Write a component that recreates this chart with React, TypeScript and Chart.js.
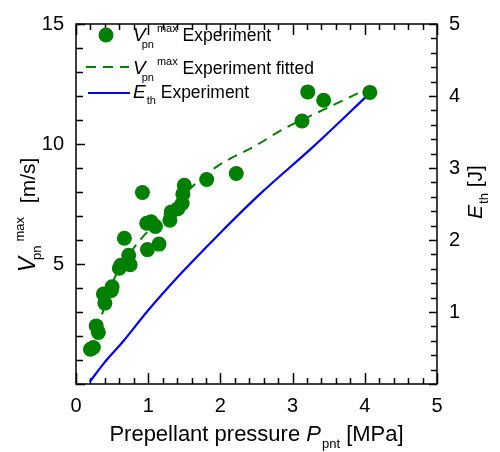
import React, { useEffect, useRef } from "react";
import { Chart, registerables } from "chart.js";

Chart.register(...registerables);

// ---- Data ----
const expPressure = [0.20, 0.24, 0.28, 0.31, 0.38, 0.40, 0.49, 0.50, 0.60, 0.62, 0.67, 0.73, 0.75, 0.92, 0.98, 0.99, 1.04, 1.10, 1.15, 1.30, 1.32, 1.41, 1.47, 1.48, 1.50, 1.81, 2.22, 3.13, 3.21, 3.43, 4.07];
const expVelocity = [1.45, 1.52, 2.42, 2.15, 3.75, 3.37, 3.90, 4.05, 4.82, 4.95, 6.07, 5.36, 4.97, 7.98, 6.70, 5.60, 6.76, 6.56, 5.83, 6.82, 7.17, 7.30, 7.52, 7.91, 8.28, 8.52, 8.77, 10.96, 12.17, 11.82, 12.15];

const fitPressure = [0.36, 0.56, 0.77, 0.91, 1.20, 1.62, 1.95, 2.50, 2.87, 3.43, 4.07];
const fitVelocity = [2.90, 4.60, 5.55, 6.08, 6.98, 8.25, 9.06, 9.95, 10.62, 11.43, 12.35];

const ethPressure = [0.19, 0.38, 0.66, 0.98, 1.44, 1.95, 2.55, 3.29, 4.07];
const ethEnergy = [0.03, 0.28, 0.60, 1.00, 1.52, 2.05, 2.64, 3.30, 4.04];

const xTicks = [0, 1, 2, 3, 4, 5];
const yLeftTicks = [5, 10, 15];
const yRightTicks = [1, 2, 3, 4, 5];

const GREEN = "#008000";
const BLUE = "#0000ff";
const FAMILY = '"Liberation Sans", Arial, Helvetica, sans-serif';

type Seg = { t: string; font: string; dy?: number; dx?: number };

function segWidth(ctx: CanvasRenderingContext2D, segs: Seg[]) {
  let w = 0;
  for (const s of segs) {
    ctx.font = s.font;
    w += (s.dx || 0) + ctx.measureText(s.t).width;
  }
  return w;
}

function drawSegs(ctx: CanvasRenderingContext2D, segs: Seg[], x: number, y: number) {
  let cx = x;
  for (const s of segs) {
    ctx.font = s.font;
    cx += s.dx || 0;
    ctx.fillText(s.t, cx, y + (s.dy || 0));
    cx += ctx.measureText(s.t).width;
  }
}

const f = (size: number, italic = false) => `${italic ? "italic " : ""}${size}px ${FAMILY}`;

const frameTicksPlugin = {
  id: "frameTicks",
  beforeDatasetsDraw(chart: any) {
    const ctx: CanvasRenderingContext2D = chart.ctx;
    const { left, right, top, bottom } = chart.chartArea;
    const sx = chart.scales.x;
    const sy = chart.scales.y;
    const sy2 = chart.scales.y2;
    ctx.save();
    ctx.strokeStyle = "#000";
    ctx.lineWidth = 1.5;
    ctx.beginPath();
    for (let i = 0; i <= 25; i++) {
      const v = i * 0.2;
      const px = Math.round(sx.getPixelForValue(v)) + 0.5;
      const major = i % 5 === 0;
      const len = major ? 11 : 6;
      ctx.moveTo(px, bottom);
      ctx.lineTo(px, bottom - len);
      ctx.moveTo(px, top);
      ctx.lineTo(px, top + len);
    }
    for (let i = 0; i <= 15; i++) {
      const py = Math.round(sy.getPixelForValue(i)) + 0.5;
      const len = i % 5 === 0 ? 9 : 7;
      ctx.moveTo(left, py);
      ctx.lineTo(left + len, py);
    }
    for (let i = 0; i <= 25; i++) {
      const v = i * 0.2;
      const py = Math.round(sy2.getPixelForValue(v)) + 0.5;
      const len = i % 5 === 0 ? 8 : 6;
      ctx.moveTo(right, py);
      ctx.lineTo(right - len, py);
    }
    ctx.stroke();
    ctx.strokeRect(left, top, right - left, bottom - top);
    ctx.restore();
  },
};

const textPlugin = {
  id: "richText",
  afterDraw(chart: any) {
    const ctx: CanvasRenderingContext2D = chart.ctx;
    const { left, right, bottom } = chart.chartArea;
    ctx.save();
    ctx.fillStyle = "#000";
    ctx.textBaseline = "alphabetic";
    ctx.textAlign = "left";

    // X axis title
    const xt: Seg[] = [
      { t: "Prepellant pressure ", font: f(22) },
      { t: "P", font: f(22, true) },
      { t: "pnt", font: f(13), dy: 7, dx: 1 },
      { t: " [MPa]", font: f(22) },
    ];
    const xw = segWidth(ctx, xt);
    drawSegs(ctx, xt, (left + right) / 2 - xw / 2, bottom + 57);

    // Left Y title (rotated)
    const yt: Seg[] = [
      { t: "V", font: f(23, true) },
      { t: "pn", font: f(13), dy: 6, dx: -3 },
      { t: "max", font: f(13), dy: -11, dx: 4 },
      { t: " [m/s]", font: f(21), dx: 8 },
    ];
    const yw = segWidth(ctx, yt);
    ctx.save();
    ctx.translate(35, 215);
    ctx.rotate(-Math.PI / 2);
    drawSegs(ctx, yt, -yw / 2, 0);
    ctx.restore();

    // Right Y title (rotated)
    const rt: Seg[] = [
      { t: "E", font: f(21, true) },
      { t: "th", font: f(13), dy: 6, dx: 1 },
      { t: " [J]", font: f(21) },
    ];
    const rw = segWidth(ctx, rt);
    ctx.save();
    ctx.translate(482, 192);
    ctx.rotate(-Math.PI / 2);
    drawSegs(ctx, rt, -rw / 2, 0);
    ctx.restore();

    // Legend
    ctx.fillStyle = GREEN;
    ctx.beginPath();
    ctx.arc(106, 35, 7.5, 0, Math.PI * 2);
    ctx.fill();
    ctx.strokeStyle = GREEN;
    ctx.lineWidth = 2;
    ctx.setLineDash([10, 7]);
    ctx.beginPath();
    ctx.moveTo(86, 67);
    ctx.lineTo(129, 67);
    ctx.stroke();
    ctx.setLineDash([]);
    ctx.strokeStyle = BLUE;
    ctx.beginPath();
    ctx.moveTo(88, 93);
    ctx.lineTo(130, 93);
    ctx.stroke();

    ctx.fillStyle = "#000";
    const vSegs = (rest: string): Seg[] => [
      { t: "V", font: f(19, true) },
      { t: "pn", font: f(11), dy: 7, dx: -4 },
      { t: "max", font: f(11), dy: -9, dx: 3 },
      { t: " " + rest, font: f(17.5) },
    ];
    drawSegs(ctx, vSegs("Experiment"), 133, 41);
    drawSegs(ctx, vSegs("Experiment fitted"), 133, 74);
    drawSegs(
      ctx,
      [
        { t: "E", font: f(19, true) },
        { t: "th", font: f(11), dy: 6, dx: 1 },
        { t: " Experiment", font: f(17.5) },
      ],
      133,
      98
    );
    ctx.restore();
  },
};

export default function App() {
  const ref = useRef<HTMLCanvasElement>(null);

  useEffect(() => {
    if (!ref.current) return;
    const tickFont = { family: FAMILY, size: 20 };
    const chart = new Chart(ref.current, {
      type: "scatter",
      data: {
        datasets: [
          {
            label: "Vpn max Experiment",
            data: expPressure.map((x, i) => ({ x, y: expVelocity[i] })),
            showLine: false,
            pointRadius: 7.5,
            pointBorderWidth: 0,
            backgroundColor: GREEN,
            borderColor: GREEN,
            yAxisID: "y",
            order: 0,
          },
          {
            type: "line",
            label: "Vpn max Experiment fitted",
            data: fitPressure.map((x, i) => ({ x, y: fitVelocity[i] })),
            borderColor: GREEN,
            borderWidth: 2,
            borderDash: [10, 7],
            pointRadius: 0,
            fill: false,
            cubicInterpolationMode: "monotone",
            yAxisID: "y",
            order: 1,
          },
          {
            type: "line",
            label: "Eth Experiment",
            data: ethPressure.map((x, i) => ({ x, y: ethEnergy[i] })),
            borderColor: BLUE,
            borderWidth: 2.2,
            pointRadius: 0,
            fill: false,
            cubicInterpolationMode: "monotone",
            yAxisID: "y2",
            order: 2,
          },
        ] as any,
      },
      options: {
        responsive: false,
        animation: false,
        devicePixelRatio: 1,
        layout: { padding: { top: 14, left: 0, right: 0, bottom: 0 } },
        plugins: { legend: { display: false }, tooltip: { enabled: false } },
        scales: {
          x: {
            type: "linear",
            position: "bottom",
            min: 0,
            max: 5,
            afterBuildTicks: (s: any) => {
              s.ticks = xTicks.map((v) => ({ value: v }));
            },
            ticks: { font: tickFont, color: "#000", padding: 10 },
            grid: { display: false, drawTicks: false },
            border: { display: false },
            afterFit: (s: any) => {
              s.height = 68;
            },
          },
          y: {
            type: "linear",
            position: "left",
            min: 0,
            max: 15,
            afterBuildTicks: (s: any) => {
              s.ticks = yLeftTicks.map((v) => ({ value: v }));
            },
            ticks: { font: tickFont, color: "#000", padding: 12 },
            grid: { display: false, drawTicks: false },
            border: { display: false },
            afterFit: (s: any) => {
              s.width = 76;
            },
          },
          y2: {
            type: "linear",
            position: "right",
            min: 0,
            max: 5,
            afterBuildTicks: (s: any) => {
              s.ticks = yRightTicks.map((v) => ({ value: v }));
            },
            ticks: { font: tickFont, color: "#000", padding: 12 },
            grid: { display: false, drawTicks: false },
            border: { display: false },
            afterFit: (s: any) => {
              s.width = 63;
            },
          },
        },
      } as any,
      plugins: [frameTicksPlugin, textPlugin],
    });
    return () => chart.destroy();
  }, []);

  return (
    <div style={{ position: "absolute", left: 0, top: 0, width: 500, height: 452, background: "#fff" }}>
      <canvas ref={ref} width={500} height={452} style={{ display: "block", width: 500, height: 452 }} />
    </div>
  );
}
